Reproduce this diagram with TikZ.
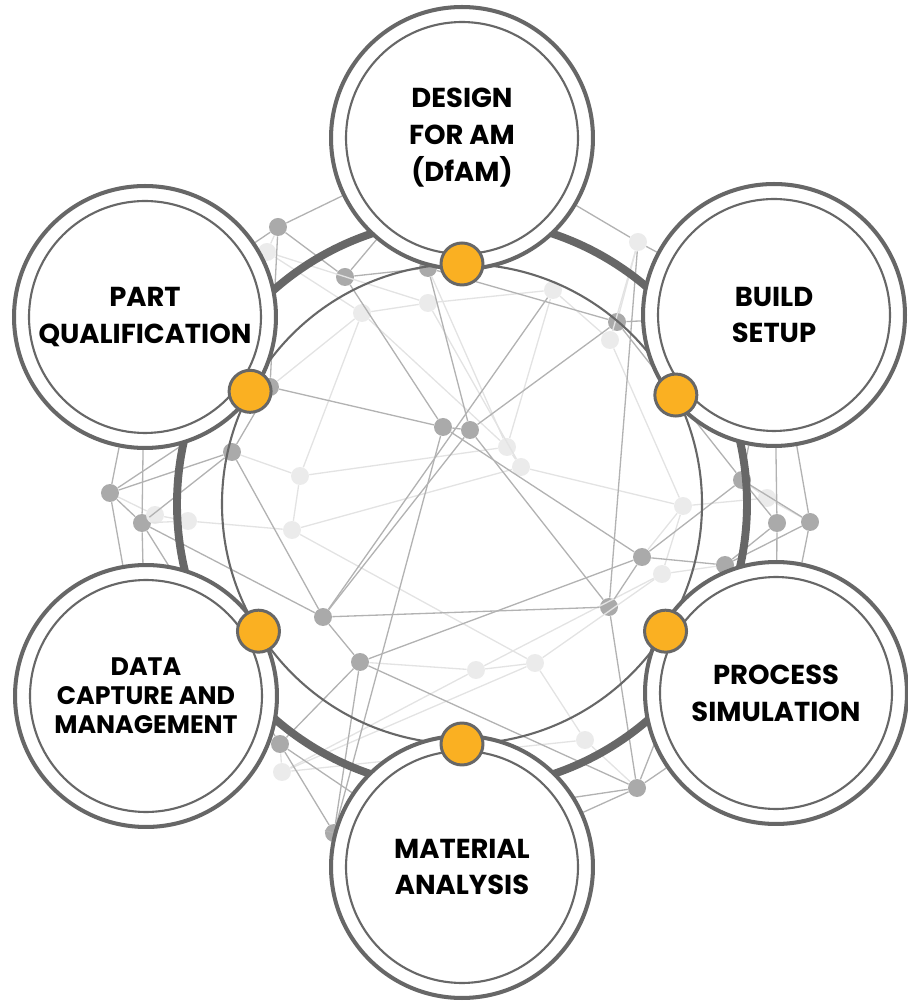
\documentclass[tikz,border=0pt]{standalone}
\usepackage{fontspec}
\setmainfont{Poppins}
\usetikzlibrary{positioning}
\definecolor{ringgray}{RGB}{103,103,103}
\definecolor{hubgold}{RGB}{250,176,34}
\pgfdeclarelayer{back}
\pgfsetlayers{back,main}

\begin{document}
\begin{tikzpicture}[x=0.02cm, y=0.02cm,
        stage/.style={circle, draw=ringgray, line width=2.3pt, fill=white,
                      minimum size=5.24cm, inner sep=0pt, align=center,
                      font=\bfseries\fontsize{15.6}{21}\selectfont,
                      path picture={\draw[ringgray, line width=1.2pt]
                        (path picture bounding box.center) circle[radius=2.32cm];}},
        hub/.style={circle, draw=ringgray, line width=1.7pt, fill=hubgold,
                    minimum size=0.84cm, inner sep=0pt},
        knot/.style={circle, fill=gray!67, minimum size=0.36cm, inner sep=0pt},
        faintknot/.style={knot, fill=gray!16},
        link/.style={gray!60, line width=0.75pt},
        faint/.style={gray!22, line width=0.75pt}
      ]
        \useasboundingbox (-462,-499) rectangle (445,504);

        \node[stage] (dfam) at (0,366) {DESIGN\\FOR AM\\(DfAM)};
        \node[stage] (setup) at (312,189) {BUILD\\SETUP};
        \node[stage] (procsim) at (314,-189) {PROCESS\\SIMULATION};
        \node[stage] (material) at (0,-363) {MATERIAL\\ANALYSIS};
        \node[stage, font=\bfseries\fontsize{14.4}{16.5}\selectfont]
          (datacap) at (-316,-192) {DATA\\CAPTURE AND\\MANAGEMENT};
        \node[stage] (partqual) at (-317,187) {PART\\QUALIFICATION};

        \begin{pgfonlayer}{back}
          \foreach \name/\pos in {d1/{(-19,77)}, d2/{(8,74)}, d3/{(147,-103)},
              d4/{(180,-53)}, d5/{(-139,-113)}, d6/{(-102,-158)}, d7/{(-182,-240)},
              d8/{(-128,-329)}, d9/{(-352,11)}, d10/{(-320,-19)}, d11/{(-230,52)},
              d12/{(280,24)}, d13/{(315,-19)}, d14/{(348,-18)}, d15/{(-184,277)},
              d16/{(-117,227)}, d17/{(155,182)}, d18/{(263,-61)}, d19/{(175,-284)},
              d20/{(-192,117)}, d21/{(-34,236)}}
            \node[knot] (\name) at \pos {};
          \foreach \name/\pos in {l1/{(45,57)}, l2/{(59,37)}, l3/{(14,-166)},
              l4/{(-180,-268)}, l5/{(-307,-11)}, l6/{(-274,-17)}, l7/{(-170,-26)},
              l8/{(305,6)}, l9/{(221,-2)}, l10/{(200,-70)}, l11/{(-100,191)},
              l12/{(-34,201)}, l13/{(148,164)}, l14/{(91,214)}, l15/{(176,262)},
              l16/{(-195,252)}, l17/{(-162,28)}, l18/{(73,-159)}, l19/{(123,-236)}}
            \node[faintknot] (\name) at \pos {};

          \foreach \a/\b in {l1/l2, l1/d21, l2/l9, l2/l7, l1/l11, l3/l18, l3/d6,
              l3/l4, l4/d7, l5/l6, l6/l7, l7/l17, l17/d11, l17/l11, l8/l9, l9/l10,
              l10/d18, l10/l18, l11/l12, l12/l14, l13/l14, l13/l15, l15/d17,
              l16/d15, l16/l11, l18/l19, l19/d19, l12/l2, l17/l1, l3/l10, l8/d12,
              l6/d10, l16/l12, l13/l9, l19/l4, l5/d9, l8/d14, l14/l1, l7/l18,
              l11/d20, l9/d4, l4/l18}
            \draw[faint] (\a) -- (\b);
          \foreach \a/\b in {d1/d2, d1/d16, d1/d20, d1/d8, d1/d4, d2/d21, d2/d5,
              d2/d3, d3/d5, d3/d4, d3/d19, d4/d6, d4/d12, d4/d18, d5/d6, d5/d11,
              d5/d10, d6/d7, d6/d8, d7/d8, d7/d10, d9/d10, d9/d11, d9/d20,
              d10/d11, d11/d20, d12/d13, d12/d14, d12/d17, d13/d18, d14/d18,
              d15/d16, d15/d20, d16/d21, d17/d21, d18/d19, d19/d8, l14/d5,
              l15/d3, d2/d17, d6/d19}
            \draw[link] (\a) -- (\b);
          \foreach \a/\b in {d9/partqual, d10/datacap, d10/partqual, d9/datacap,
              d13/setup, d13/procsim, d14/setup, d14/procsim, d15/partqual,
              d15/dfam, d16/dfam, l16/partqual, d7/datacap, d7/material,
              d8/material, d19/material, d19/procsim, d18/procsim, l15/dfam,
              l15/setup, d17/setup, d21/dfam, d20/partqual, d12/setup}
            \draw[link] (\a) -- (\b);

          \draw[ringgray, line width=4.5pt] (0,0) circle[radius=285];
          \draw[ringgray, line width=1.2pt] (0,0) circle[radius=240];
        \end{pgfonlayer}

        \node[hub] (hdfam) at (90:240) {};
        \node[hub] (hsetup) at (27:240) {};
        \node[hub] (hprocsim) at (-32:240) {};
        \node[hub] (hmaterial) at (-90:240) {};
        \node[hub] (hdatacap) at (212:240) {};
        \node[hub] (hpartqual) at (152:240) {};
      \end{tikzpicture}
\end{document}
